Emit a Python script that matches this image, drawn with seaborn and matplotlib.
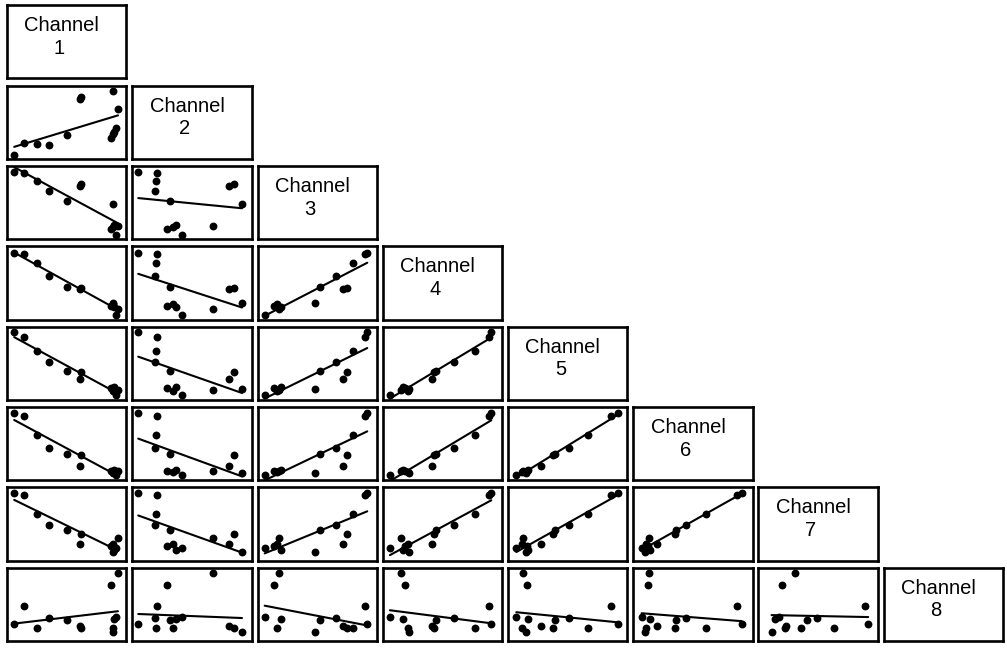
import numpy as np
import pandas as pd
import seaborn as sns
import matplotlib
matplotlib.use("Agg")
import matplotlib.pyplot as plt

channel_names = ["Channel 1", "Channel 2", "Channel 3", "Channel 4",
                 "Channel 5", "Channel 6", "Channel 7", "Channel 8"]
ch1 = [6, 14, 25, 35, 50, 62, 61, 89, 93, 87, 90, 91, 89]
ch2 = [5, 21, 20, 19, 32, 85, 81, 92, 68, 29, 37, 42, 34]
ch3 = [92, 90, 80, 66, 52, 75, 72, 48, 18, 14, 20, 6, 16]
ch4 = [91, 89, 77, 60, 45, 43, 41, 22, 15, 19, 17, 6, 21]
ch5 = [92, 86, 67, 51, 39, 38, 28, 15, 13, 16, 17, 7, 12]
ch6 = [91, 87, 61, 44, 36, 35, 20, 10, 13, 12, 14, 7, 11]
ch7 = [92, 89, 63, 49, 41, 36, 23, 11, 31, 20, 14, 17, 22]
ch8 = [23, 48, 17, 31, 28, 18, 20, 12, 92, 76, 30, 32, 18]

df = pd.DataFrame(dict(zip(channel_names,
                           [ch1, ch2, ch3, ch4, ch5, ch6, ch7, ch8])))

sns.set_style("white")
plt.rcParams["font.family"] = ["Liberation Sans", "DejaVu Sans"]

W, H = 10.07, 6.48
n = len(channel_names)
g = sns.PairGrid(df, corner=True, despine=False,
                 height=H / n, aspect=(W / n) / (H / n))
g.map_lower(sns.regplot, ci=None, color="black", truncate=True,
            scatter_kws={"s": 32, "linewidths": 0, "alpha": 1},
            line_kws={"lw": 1.5})

for i in range(n):
    for j in range(n):
        ax = g.axes[i, j]
        if ax is None:
            continue
        ax.set_xlim(0, 100)
        ax.set_ylim(0, 100)
        ax.set_xticks([])
        ax.set_yticks([])
        ax.set_xlabel("")
        ax.set_ylabel("")
        ax.tick_params(length=0)
        for s in ax.spines.values():
            s.set_visible(True)
            s.set_color("black")
            s.set_linewidth(1.9)

for i, name in enumerate(channel_names):
    ax = g.axes[i, i]
    ax.yaxis.set_visible(True)
    for s in ax.spines.values():
        s.set_visible(True)
        s.set_color("black")
        s.set_linewidth(1.9)
    word, num = name.split(" ")
    ax.text(0.46, 0.72, word, transform=ax.transAxes, ha="center",
            va="center", fontsize=14.5, color="black")
    ax.text(0.44, 0.41, num, transform=ax.transAxes, ha="center",
            va="center", fontsize=14.5, color="black")

g.figure.set_size_inches(W, H)
g.figure.subplots_adjust(left=0.007, right=0.996, bottom=0.011, top=0.992,
                         wspace=0.05, hspace=0.096)
g.figure.savefig("out.png", dpi=100)
